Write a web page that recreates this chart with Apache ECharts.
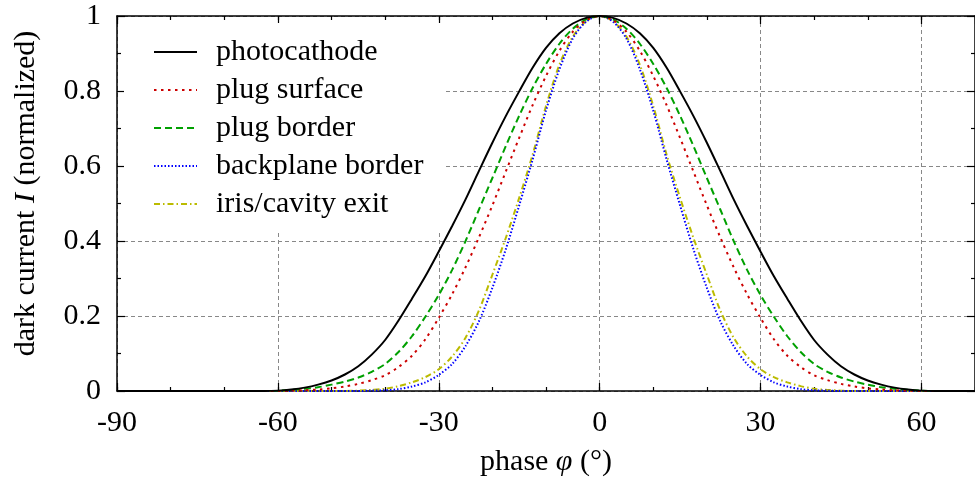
<!DOCTYPE html>
<html>
<head>
<meta charset="utf-8">
<script src="https://cdn.jsdelivr.net/npm/echarts@6/dist/echarts.min.js"></script>
<style>
  html, body { margin: 0; padding: 0; background: #fff; }
  #chart { width: 975px; height: 483px; }
</style>
</head>
<body>
<div id="chart"></div>
<script>
// Phase samples (degrees)
const phase = [
  -90, -80, -70, -62.5,
  -60, -57.5, -55, -52.5, -50, -47.5, -45, -42.5, -40, -37.5, -35, -32.5,
  -30, -27.5, -25, -22.5, -20, -17.5, -15, -12.5, -10, -7.5, -5, -2.5,
  0,
  2.5, 5, 7.5, 10, 12.5, 15, 17.5, 20, 22.5, 25, 27.5,
  30, 32.5, 35, 37.5, 40, 42.5, 45, 47.5, 50, 52.5, 55, 57.5, 60,
  62.5, 70
];

// Normalized dark current for each emission site
const photocathode = [
  0, 0, 0, 0,
  0.001, 0.004, 0.009, 0.017, 0.028, 0.044, 0.066, 0.097, 0.136, 0.188, 0.246, 0.306,
  0.372, 0.440, 0.511, 0.587, 0.662, 0.733, 0.799, 0.862, 0.915, 0.954, 0.980, 0.995,
  1.000,
  0.995, 0.980, 0.954, 0.915, 0.862, 0.799, 0.733, 0.662, 0.587, 0.511, 0.440,
  0.372, 0.306, 0.246, 0.188, 0.136, 0.097, 0.066, 0.044, 0.028, 0.017, 0.009, 0.004, 0.001,
  0, 0
];
const plugSurface = [
  0, 0, 0, 0,
  0, 0.001, 0.002, 0.004, 0.007, 0.012, 0.019, 0.029, 0.042, 0.064, 0.094, 0.138,
  0.195, 0.258, 0.330, 0.410, 0.495, 0.585, 0.675, 0.762, 0.840, 0.907, 0.958, 0.989,
  1.000,
  0.989, 0.958, 0.907, 0.840, 0.762, 0.675, 0.585, 0.495, 0.410, 0.330, 0.258,
  0.195, 0.138, 0.094, 0.064, 0.042, 0.029, 0.019, 0.012, 0.007, 0.004, 0.002, 0.001, 0,
  0, 0
];
const plugBorder = [
  0, 0, 0, 0,
  0.001, 0.003, 0.006, 0.010, 0.017, 0.025, 0.036, 0.051, 0.072, 0.104, 0.146, 0.198,
  0.256, 0.323, 0.400, 0.484, 0.568, 0.653, 0.734, 0.808, 0.872, 0.926, 0.966, 0.991,
  1.000,
  0.991, 0.966, 0.926, 0.872, 0.808, 0.734, 0.653, 0.568, 0.484, 0.400, 0.323,
  0.256, 0.198, 0.146, 0.104, 0.072, 0.051, 0.036, 0.025, 0.017, 0.010, 0.006, 0.003, 0.001,
  0, 0
];
const backplaneBorder = [
  0, 0, 0, 0,
  0, 0, 0, 0, 0, 0, 0, 0.001, 0.002, 0.005, 0.012, 0.023,
  0.043, 0.072, 0.120, 0.186, 0.275, 0.378, 0.495, 0.617, 0.748, 0.858, 0.940, 0.985,
  1.000,
  0.985, 0.940, 0.858, 0.748, 0.617, 0.495, 0.378, 0.275, 0.186, 0.120, 0.072,
  0.043, 0.023, 0.012, 0.005, 0.002, 0.001, 0, 0, 0, 0, 0, 0, 0,
  0, 0
];
const irisCavityExit = [
  0, 0, 0, 0,
  0, 0, 0, 0, 0, 0, 0.001, 0.003, 0.006, 0.013, 0.023, 0.037,
  0.058, 0.092, 0.142, 0.215, 0.310, 0.408, 0.515, 0.630, 0.760, 0.870, 0.945, 0.986,
  1.000,
  0.986, 0.945, 0.870, 0.760, 0.630, 0.515, 0.408, 0.310, 0.215, 0.142, 0.092,
  0.058, 0.037, 0.023, 0.013, 0.006, 0.003, 0.001, 0, 0, 0, 0, 0, 0,
  0, 0
];

const seriesNames = ['photocathode', 'plug surface', 'plug border', 'backplane border', 'iris/cavity exit'];
const seriesValues = [photocathode, plugSurface, plugBorder, backplaneBorder, irisCavityExit];

// Axis ranges and tick spacing
const xRange = [-90, 70];
const xMajor = 30;
const xMinor = 10;
const yRange = [0, 1];
const yMajor = 0.2;

const FONT = '"Liberation Serif", "DejaVu Serif", serif';
const lineStyles = [
  { color: '#000000', type: 'solid', width: 2 },
  { color: '#cc0000', type: [2.5, 4.5], width: 2 },
  { color: '#00a000', type: [7, 4], width: 2 },
  { color: '#0000ff', type: [1.5, 2], width: 2 },
  { color: '#bbbb00', type: [6, 3, 1.5, 3], width: 2 }
];

const black = { color: '#000', width: 1.5 };
const tickStyle = { color: '#000', width: 1.2 };
const gridDash = { color: '#888', type: [4, 3], width: 1 };
const textBase = { fontFamily: FONT, fontSize: 30, color: '#000' };

function frameX(position, interval, tickLen, showLine) {
  return {
    type: 'value', position: position, min: xRange[0], max: xRange[1], interval: interval,
    axisLine: { show: showLine, onZero: false, lineStyle: black },
    axisTick: { show: true, inside: true, length: tickLen, lineStyle: tickStyle },
    axisLabel: { show: false },
    splitLine: { show: false }
  };
}

const xAxes = [
  {
    type: 'value', position: 'bottom', min: xRange[0], max: xRange[1], interval: xMajor,
    axisLine: { show: true, onZero: false, lineStyle: black },
    axisTick: { show: true, inside: true, length: 8, lineStyle: tickStyle },
    axisLabel: Object.assign({ show: true, margin: 17, showMaxLabel: false }, textBase),
    splitLine: { show: true, lineStyle: gridDash },
    name: '{a|phase }{i|φ}{a| (°)}',
    nameLocation: 'middle', nameGap: 56,
    nameTextStyle: Object.assign({
      rich: {
        a: Object.assign({}, textBase),
        i: Object.assign({ fontStyle: 'italic' }, textBase)
      }
    }, textBase)
  },
  frameX('bottom', xMinor, 4, false),
  frameX('top', xMajor, 8, true),
  frameX('top', xMinor, 4, false)
];

const yAxes = [
  {
    type: 'value', position: 'left', min: yRange[0], max: yRange[1], interval: yMajor,
    axisLine: { show: true, onZero: false, lineStyle: black },
    axisTick: { show: true, inside: true, length: 8, lineStyle: tickStyle },
    minorTick: { show: true, splitNumber: 2, length: 4, lineStyle: tickStyle },
    axisLabel: Object.assign({ show: true, margin: 16 }, textBase),
    splitLine: { show: true, lineStyle: gridDash },
    name: '{a|dark current }{i|I}{a| (normalized)}',
    nameLocation: 'middle', nameGap: 76,
    nameTextStyle: Object.assign({
      padding: [0, 0, 0, 20],
      rich: {
        a: Object.assign({}, textBase),
        i: Object.assign({ fontStyle: 'italic' }, textBase)
      }
    }, textBase)
  },
  {
    type: 'value', position: 'right', min: yRange[0], max: yRange[1], interval: yMajor,
    axisLine: { show: true, onZero: false, lineStyle: black },
    axisTick: { show: true, inside: true, length: 8, lineStyle: tickStyle },
    minorTick: { show: true, splitNumber: 2, length: 4, lineStyle: tickStyle },
    axisLabel: { show: false },
    splitLine: { show: false }
  }
];

const series = seriesNames.map(function (name, k) {
  return {
    name: name,
    type: 'line',
    xAxisIndex: 0,
    yAxisIndex: 0,
    data: phase.map(function (p, i) { return [p, seriesValues[k][i]]; }),
    showSymbol: false,
    symbol: 'none',
    smooth: 0.3,
    clip: true,
    lineStyle: lineStyles[k],
    itemStyle: { color: lineStyles[k].color },
    z: 2 + (seriesNames.length - k) * 0.1
  };
});

const chart = echarts.init(document.getElementById('chart'), null, { renderer: 'canvas' });
chart.setOption({
  animation: false,
  backgroundColor: '#fff',
  grid: { left: 117, top: 16, right: -5, bottom: 92, containLabel: false },
  legend: {
    orient: 'vertical',
    left: 124, top: 23,
    padding: [14, 21, 12, 29],
    backgroundColor: '#fff',
    itemWidth: 43, itemHeight: 14, itemGap: 8,
    selectedMode: false,
    itemStyle: { opacity: 0 },
    textStyle: Object.assign({ lineHeight: 30, padding: [0, 0, 0, 14] }, textBase),
    data: seriesNames
  },
  xAxis: xAxes,
  yAxis: yAxes,
  series: series
});
</script>
</body>
</html>
